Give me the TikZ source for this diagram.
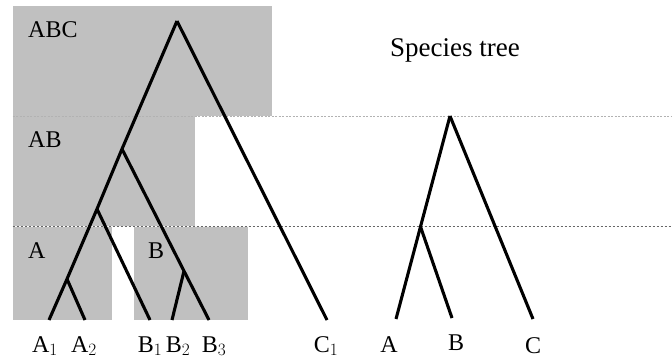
\documentclass[tikz,border=0pt]{standalone}
\usepackage{fontspec}
\setmainfont{Liberation Serif}
\begin{document}
\begin{tikzpicture}[x=1pt,y=-1pt,
  box/.style={fill=boxgray,draw=none},
  branch/.style={line width=3.1pt,line cap=butt,line join=miter},
  lab/.style={inner sep=0pt,font=\fontsize{24}{28}\selectfont},
  leaf/.style={lab,anchor=base},
  sep1/.style={draw=black!30,line width=1pt,dash pattern=on 2pt off 1.5pt},
  sep2/.style={draw=black!60,line width=0.8pt,dash pattern=on 2.5pt off 1.5pt}]
\definecolor{boxgray}{RGB}{192,192,192}
\useasboundingbox (0,0) rectangle (672,360);
% shaded populations
\fill[box] (12.7,5.7) rectangle (272,116);
\fill[box] (12.7,116) rectangle (195,226);
\fill[box] (12.7,226.7) rectangle (112,320);
\fill[box] (134,226.7) rectangle (248,320);
% separators
\coordinate (s1a) at (12.7,116); \coordinate (s1b) at (672,116);
\coordinate (s2a) at (12.7,226); \coordinate (s2b) at (672,226);
\draw[sep1] (s1a) -- (s1b);
\draw[sep2] (s2a) -- (s2b);
% gene tree
\coordinate (root) at (177,21);
\coordinate (ab) at (122,149);
\coordinate (an) at (97,209);
\coordinate (as) at (67,279);
\coordinate (bs) at (184,271);
\coordinate (a1) at (49,320);
\coordinate (a2) at (85,320);
\coordinate (b1) at (150,320);
\coordinate (b2) at (172,320);
\coordinate (b3) at (209,320);
\coordinate (c1) at (327,320);
\draw[branch] (root) -- (ab) -- (an) -- (as) -- (a1);
\draw[branch] (root) -- (c1);
\draw[branch] (ab) -- (bs) -- (b3);
\draw[branch] (an) -- (b1);
\draw[branch] (as) -- (a2);
\draw[branch] (bs) -- (b2);
% species tree
\coordinate (sroot) at (450,116);
\coordinate (sab) at (420.5,226.7);
\coordinate (sa) at (396,319);
\coordinate (sb) at (452,318);
\coordinate (sc) at (533,319);
\draw[branch] (sroot) -- (sab) -- (sa);
\draw[branch] (sab) -- (sb);
\draw[branch] (sroot) -- (sc);
% labels
\node[lab,anchor=base west] (tABC) at (28,37) {ABC};
\node[lab,anchor=base west] (tAB) at (28,147) {AB};
\node[lab,anchor=base west] (tA) at (28,258) {A};
\node[lab,anchor=base west] (tB) at (148,258) {B};
\node[inner sep=0pt,anchor=base west,font=\fontsize{27}{32}\selectfont] (tsp) at (390,56) {Species tree};
\node[leaf] (la1) at (45,352) {A$_1$};
\node[leaf] (la2) at (84,352) {A$_2$};
\node[leaf] (lb1) at (150,352) {B$_1$};
\node[leaf] (lb2) at (178,352) {B$_2$};
\node[leaf] (lb3) at (214,352) {B$_3$};
\node[leaf] (lc1) at (326,352) {C$_1$};
\node[leaf] (lsa) at (389,352) {A};
\node[leaf] (lsb) at (456,350) {B};
\node[leaf] (lsc) at (533,353) {C};
\end{tikzpicture}
\end{document}
